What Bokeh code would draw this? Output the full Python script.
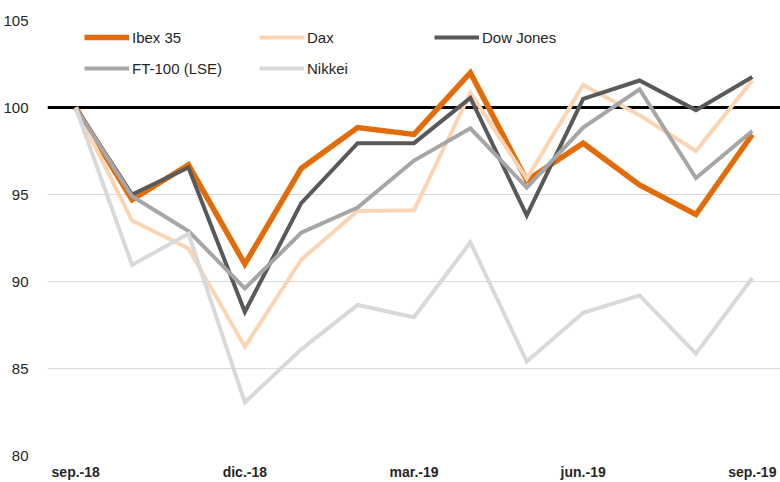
from bokeh.plotting import figure
from bokeh.models import FixedTicker, Span, Legend, LegendItem
from bokeh.embed import file_html
from bokeh.resources import INLINE

months = list(range(13))
tick_positions = [0, 3, 6, 9, 12]
tick_labels = ["sep.-18", "dic.-18", "mar.-19", "jun.-19", "sep.-19"]

ibex = [100, 94.7, 96.7, 91.0, 96.5, 98.85, 98.45, 102.0, 95.8, 97.95, 95.55, 93.85, 98.45]
dax = [100, 93.5, 91.9, 86.25, 91.25, 94.05, 94.1, 100.85, 95.9, 101.3, 99.55, 97.5, 101.55]
dow = [100, 95.0, 96.55, 88.25, 94.5, 97.95, 97.95, 100.55, 93.8, 100.5, 101.55, 99.85, 101.75]
ft100 = [100, 94.9, 92.9, 89.6, 92.8, 94.25, 96.95, 98.8, 95.4, 98.85, 101.05, 95.95, 98.65]
nikkei = [100, 90.95, 92.75, 83.05, 86.1, 88.65, 87.95, 92.25, 85.4, 88.2, 89.2, 85.85, 90.2]

names = ["Ibex 35", "Dax", "Dow Jones", "FT-100 (LSE)", "Nikkei"]
colors = ["#E36C0A", "#FBD4B4", "#595959", "#A6A6A6", "#D9D9D9"]
widths = [5.5, 4, 4, 4, 4]
series = [ibex, dax, dow, ft100, nikkei]

FONT = "Liberation Sans"

p = figure(width=780, height=482, output_backend="svg", toolbar_location=None,
           x_range=(-0.5, 12.5), y_range=(80, 105),
           min_border_left=46, min_border_right=0, min_border_top=20, min_border_bottom=27)
p.outline_line_color = None
p.background_fill_color = "white"
p.border_fill_color = "white"

p.xgrid.grid_line_color = None
p.ygrid.grid_line_color = "#D9D9D9"
p.ygrid.grid_line_width = 1

p.yaxis.ticker = FixedTicker(ticks=[80, 85, 90, 95, 100, 105])
p.yaxis.axis_line_color = None
p.yaxis.major_tick_line_color = None
p.yaxis.minor_tick_line_color = None
p.yaxis.major_label_text_font = FONT
p.yaxis.major_label_text_font_size = "15px"
p.yaxis.major_label_text_color = "#262626"
p.yaxis.major_label_standoff = 13

p.xaxis.ticker = FixedTicker(ticks=tick_positions)
p.xaxis.major_label_overrides = {t: l for t, l in zip(tick_positions, tick_labels)}
p.xaxis.axis_line_color = None
p.xaxis.major_tick_line_color = None
p.xaxis.minor_tick_line_color = None
p.xaxis.major_label_text_font = FONT
p.xaxis.major_label_text_font_size = "14px"
p.xaxis.major_label_text_font_style = "bold"
p.xaxis.major_label_text_color = "#262626"
p.xaxis.major_label_standoff = 2

base = Span(location=100, dimension="width", line_color="black", line_width=3, level="underlay")
p.add_layout(base)

renderers = []
for name, c, w, s in zip(names, colors, widths, series):
    r = p.line(months, s, line_color=c, line_width=w, line_join="miter")
    renderers.append(r)

def make_legend(idx, y):
    lg = Legend(items=[LegendItem(label=names[i], renderers=[renderers[i]]) for i in idx],
                orientation="horizontal", location=(37, y),
                label_text_font=FONT, label_text_font_size="15px", label_text_color="#262626",
                glyph_width=45, glyph_height=20, label_width=120, label_height=20,
                label_standoff=3, spacing=7, padding=0, margin=0,
                border_line_color=None, background_fill_alpha=0)
    p.add_layout(lg, "center")

make_legend([0, 1, 2], 408)
make_legend([3, 4], 377)

open("out.html", "w").write(file_html(p, INLINE))
